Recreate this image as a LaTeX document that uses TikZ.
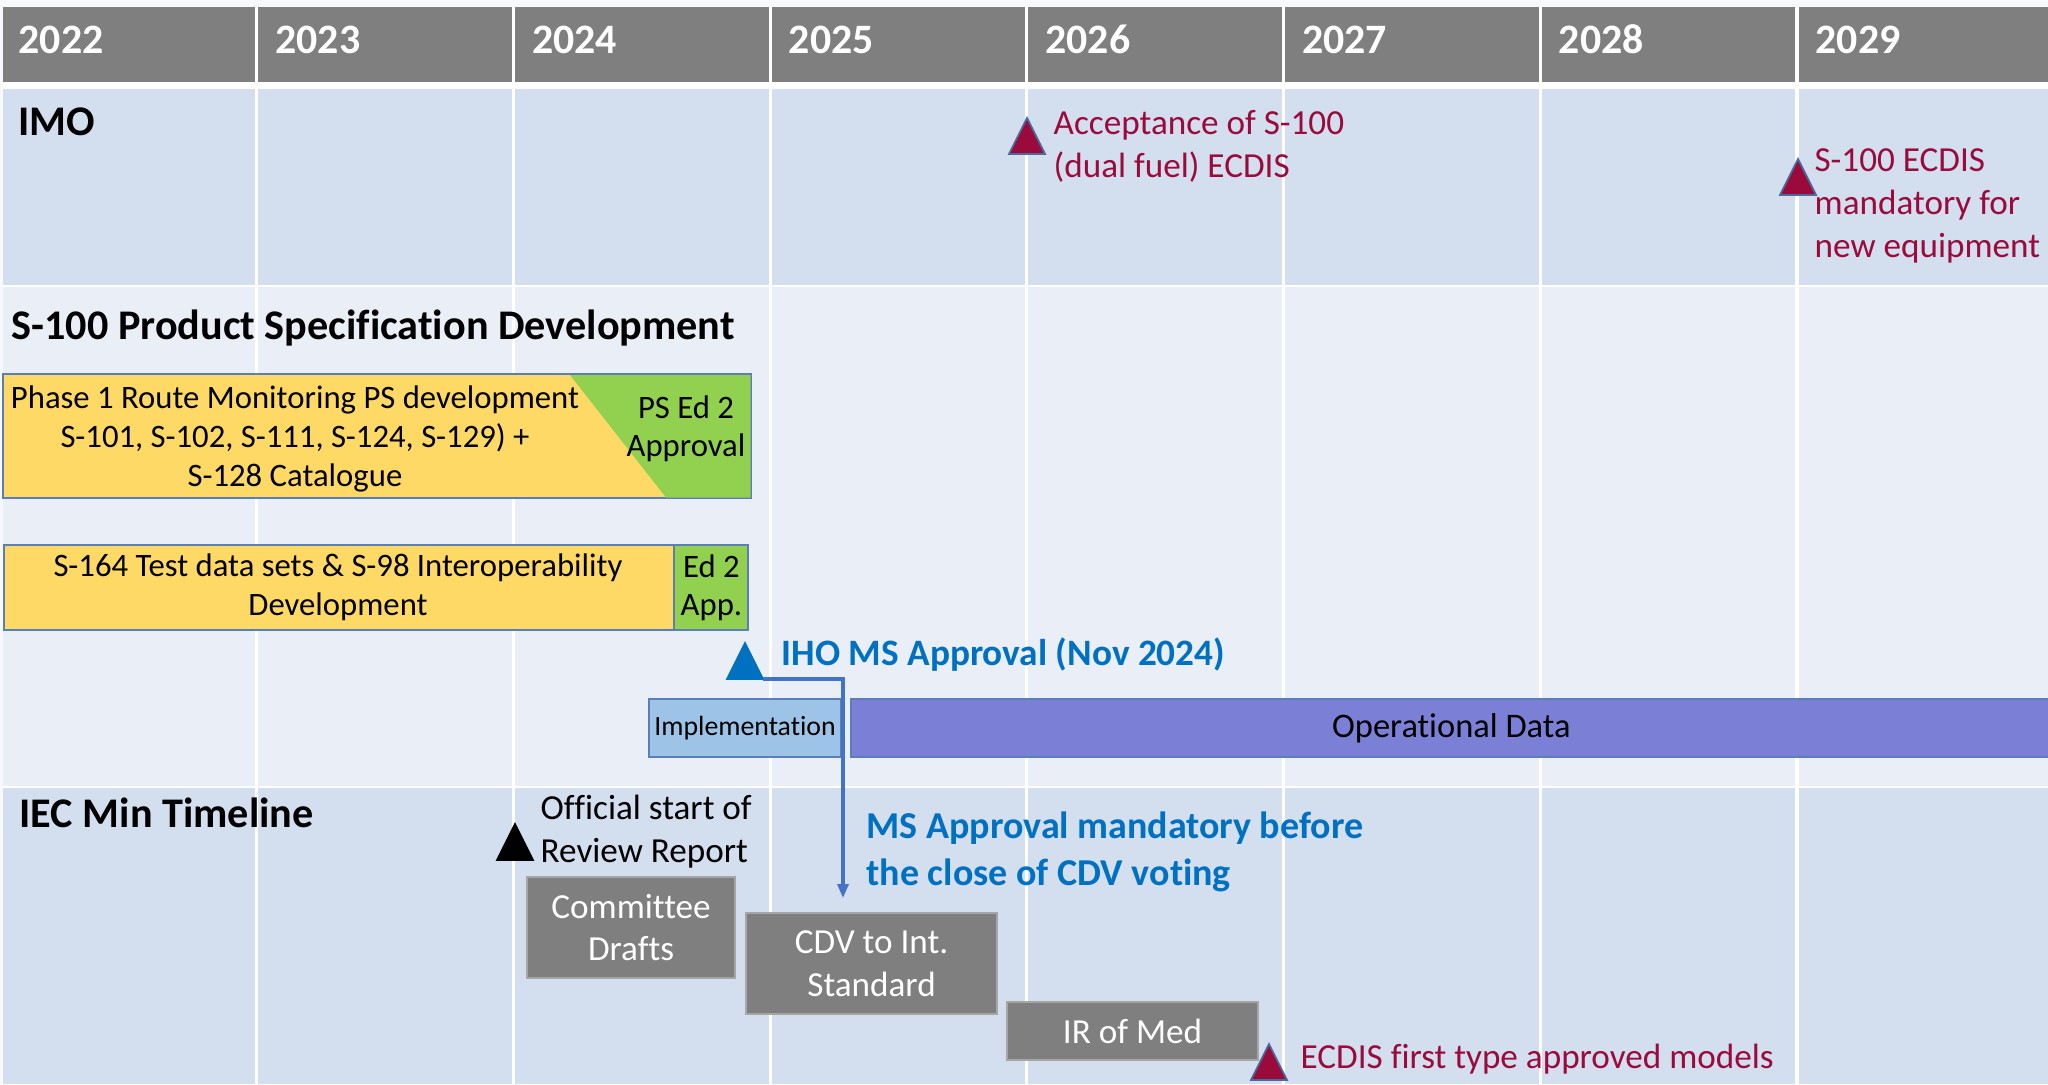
\documentclass[tikz,border=0pt]{standalone}
\usepackage{fontspec}
\setmainfont{Carlito}[Ligatures=NoCommon]
\usetikzlibrary{shapes.geometric,arrows.meta,positioning}

\definecolor{pagebg}{HTML}{F8F9FC}
\definecolor{hdrgray}{HTML}{7F7F7F}
\definecolor{rowdark}{HTML}{D3DEEF}
\definecolor{rowlight}{HTML}{E9EEF7}
\definecolor{imored}{HTML}{9A0B3C}
\definecolor{ihoblue}{HTML}{0070C0}
\definecolor{msline}{HTML}{4472C4}
\definecolor{barline}{HTML}{5A7FB8}
\definecolor{tribord}{HTML}{4A6A9B}
\definecolor{ylw}{HTML}{FFD966}
\definecolor{grn}{HTML}{92D050}
\definecolor{implblue}{HTML}{9DC3E6}
\definecolor{opviolet}{HTML}{7B80D6}
\definecolor{stageline}{HTML}{A6A6A6}

\begin{document}
\begin{tikzpicture}[x=0.01cm,y=-0.01cm,
  yearlbl/.style={anchor=base west,inner sep=0,text=white,font=\fontsize{11.9}{14}\selectfont\bfseries},
  sectlbl/.style={anchor=base west,inner sep=0,font=\fontsize{12}{14}\selectfont\bfseries},
  rednote/.style={anchor=base west,inner sep=0,align=left,text=imored,font=\fontsize{10}{12.1}\selectfont},
  milestone/.style={isosceles triangle,shape border rotate=90,isosceles triangle stretches,
    minimum width=0.36cm,minimum height=0.36cm,inner sep=0,outer sep=0,anchor=south,draw=tribord,line width=0.5pt},
  bar/.style={draw=barline,line width=0.6pt,inner sep=0,outer sep=0,anchor=north west,align=center,
    font=\fontsize{9.3}{10.9}\selectfont},
  bartxt/.style={inner sep=0,align=center,font=\fontsize{9.3}{11.1}\selectfont},
  stagebox/.style={fill=hdrgray,draw=stageline,line width=0.5pt,inner sep=0,outer sep=0,anchor=north west,
    align=center,text=white,font=\fontsize{10}{12.2}\selectfont},
  note/.style={anchor=base west,inner sep=0,align=left,font=\fontsize{10}{12.2}\selectfont},
  bluenote/.style={anchor=base west,inner sep=0,align=left,text=ihoblue,font=\bfseries}]
  \useasboundingbox (0,0) rectangle (2048,1084);

  % table background
  \fill[pagebg] (0,0) rectangle (2048,1084);
  \fill[hdrgray] (3,7) rectangle (2048,82);
  \fill[white] (3,82) rectangle (2048,89);
  \fill[rowdark] (3,89) rectangle (2048,285);
  \fill[white] (3,285) rectangle (2048,287);
  \fill[rowlight] (3,287) rectangle (2048,786);
  \fill[white] (3,786) rectangle (2048,788);
  \fill[rowdark] (3,788) rectangle (2048,1084);
  \foreach \c in {1,...,7}
    \draw[white,line width=0.9pt] (\c*256.7,7) -- (\c*256.7,1084);

  \foreach \yr [count=\i from 0] in {2022,...,2029}
    \node[yearlbl] (yr\yr) at (\i*256.7+18,53) {\yr};

  \node[sectlbl] (imo) at (18,135) {IMO};
  \node[sectlbl] (s100) at (11,339) {S-100 Product Specification Development};
  \node[sectlbl] (iec) at (19,827) {IEC Min Timeline};

  % IMO (base = last line)
  \node[milestone,fill=imored] (accept) at (1027,154) {};
  \node[rednote] (accepttxt) at (1053,177) {Acceptance of S-100\\(dual fuel) ECDIS};
  \node[milestone,fill=imored] (mandat) at (1798,195) {};
  \node[rednote] (mandattxt) at (1814,257) {S-100 ECDIS\\mandatory for\\new equipment};

  % S-100 product specifications
  \node[bar,fill=ylw,minimum width=7.48cm,minimum height=1.24cm] (phase1) at (3,374) {};
  \fill[grn] (570,375) -- (750.5,375) -- (750.5,497.5) -- (666,497.5) -- cycle;
  \draw[barline,line width=0.6pt] (phase1.north west) -- (phase1.north east);
  \node[bartxt] (phase1txt) at (295,439) {Phase 1 Route Monitoring PS development\\S-101, S-102, S-111, S-124, S-129) +\\S-128 Catalogue};
  \node[bartxt,font=\fontsize{9.3}{10.8}\selectfont] (psed2txt) at (686,429) {PS Ed 2\\Approval};

  \node[bar,fill=ylw,minimum width=6.70cm,minimum height=0.85cm] (s164) at (4,545) {};
  \node[bar,fill=grn,minimum width=0.74cm,minimum height=0.85cm,anchor=west,right=0cm of s164] (ed2) {Ed 2\\App.};
  \node[bartxt] (s164txt) at (338,587) {S-164 Test data sets \& S-98 Interoperability\\Development};

  \node[milestone,fill=ihoblue,draw=ihoblue] (iho) at (745,679) {};
  \node[bluenote,font=\fontsize{10.6}{12}\selectfont\bfseries] (ihotxt) at (781,665) {IHO MS Approval (Nov 2024)};

  \node[bar,fill=implblue,minimum width=1.92cm,minimum height=0.58cm,font=\fontsize{7.9}{9}\selectfont] (impl) at (649,699) {Implementation};
  \node[bar,fill=opviolet,minimum width=12.00cm,minimum height=0.58cm,font=\fontsize{9.8}{11}\selectfont] (opdata) at (851,699) {\raisebox{-0.25ex}{Operational Data}};

  \coordinate (cdvvote) at (843,898);
  \draw[msline,line width=0.9pt,-{Triangle[width=0.11cm,length=0.14cm]}] (iho.right corner) -| (cdvvote);

  % IEC
  \node[milestone,fill=black,draw=black] (offstart) at (515,860) {};
  \node[note] (offtxt) at (540,862) {Official start of\\Review Report};
  \node[bluenote,font=\fontsize{10.8}{13.1}\selectfont\bfseries] (mstxt) at (866,885) {MS Approval mandatory before\\the close of CDV voting};

  \node[stagebox,minimum width=2.08cm,minimum height=1.01cm] (cd) at (527,877) {Committee\\Drafts};
  \node[stagebox,minimum width=2.51cm,minimum height=1.01cm] (cdv) at (746,913) {CDV to Int.\\Standard};
  \node[stagebox,minimum width=2.51cm,minimum height=0.58cm] (irmed) at (1007,1002) {IR of Med};

  \node[milestone,fill=imored] (ecdis) at (1269,1080) {};
  \node[rednote] (ecdistxt) at (1300,1068) {ECDIS first type approved models};
\end{tikzpicture}
\end{document}
